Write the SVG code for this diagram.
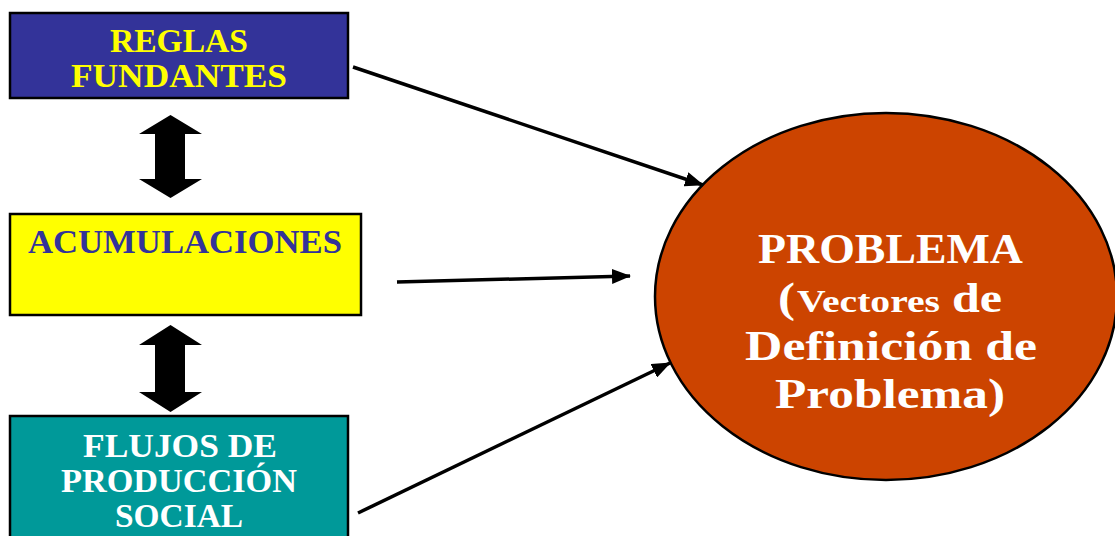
<svg xmlns="http://www.w3.org/2000/svg" width="1115" height="536" viewBox="0 0 1115 536">
<style>
.box{stroke:#000;stroke-width:2.5}
.t{font-family:"Liberation Serif","Times New Roman",serif;font-weight:bold;text-anchor:middle}
.lt{font-size:34px}
.et{font-size:43px;fill:#fff}
.conn{stroke:#000;stroke-width:3.5;fill:none}
.dbl{fill:#000}
</style>
<defs>
<marker id="ah" markerUnits="userSpaceOnUse" markerWidth="19" markerHeight="15" refX="18" refY="7.5" orient="auto">
<path d="M0,0 L19,7.5 L0,15 Z" fill="#000"/>
</marker>
</defs>
<rect width="1115" height="536" fill="#fff"/>
<g id="reglas">
<rect class="box" x="10" y="13" width="338" height="85" fill="#333399"/>
<text class="t lt" x="179" y="52" fill="#ffff00" textLength="138" lengthAdjust="spacingAndGlyphs">REGLAS</text>
<text class="t lt" x="179" y="87" fill="#ffff00" textLength="216" lengthAdjust="spacingAndGlyphs">FUNDANTES</text>
</g>
<g id="acumulaciones">
<rect class="box" x="10" y="214" width="351" height="101" fill="#ffff00"/>
<text class="t lt" x="185" y="253" fill="#333399" textLength="314" lengthAdjust="spacingAndGlyphs">ACUMULACIONES</text>
</g>
<g id="flujos">
<rect class="box" x="10" y="416" width="338" height="130" fill="#009999"/>
<text class="t lt" x="180" y="457" fill="#fff" textLength="194" lengthAdjust="spacingAndGlyphs">FLUJOS DE</text>
<text class="t lt" x="179" y="492" fill="#fff" textLength="236" lengthAdjust="spacingAndGlyphs">PRODUCCIÓN</text>
<text class="t lt" x="179" y="527" fill="#fff" textLength="128" lengthAdjust="spacingAndGlyphs">SOCIAL</text>
</g>
<g id="problema">
<ellipse cx="886" cy="296.5" rx="231" ry="183.5" fill="#cc4400" stroke="#000" stroke-width="2.5"/>
<text class="t et" x="890.5" y="263" textLength="265" lengthAdjust="spacingAndGlyphs">PROBLEMA</text>
<text class="t et" y="312" style="text-anchor:start"><tspan x="778" textLength="17" lengthAdjust="spacingAndGlyphs">(</tspan><tspan x="797" font-size="31" textLength="143" lengthAdjust="spacingAndGlyphs">Vectores</tspan><tspan x="952" textLength="50" lengthAdjust="spacingAndGlyphs">de</tspan></text>
<text class="t et" x="891" y="360" textLength="292" lengthAdjust="spacingAndGlyphs">Definición de</text>
<text class="t et" x="890" y="408" textLength="230" lengthAdjust="spacingAndGlyphs">Problema)</text>
</g>
<g id="connectors">
<path class="dbl" d="M170.5,115 L202,134 L185,134 L185,179 L202,179 L170.5,198 L139,179 L155,179 L155,134 L139,134 Z"/>
<path class="dbl" d="M170.5,325 L202,345 L185,345 L185,392 L202,392 L170.5,412 L139,392 L155,392 L155,345 L139,345 Z"/>
<line class="conn" x1="353" y1="67" x2="703" y2="185" marker-end="url(#ah)"/>
<line class="conn" x1="397" y1="282" x2="630" y2="276" marker-end="url(#ah)"/>
<line class="conn" x1="358" y1="513" x2="670" y2="363" marker-end="url(#ah)"/>
</g>
</svg>
